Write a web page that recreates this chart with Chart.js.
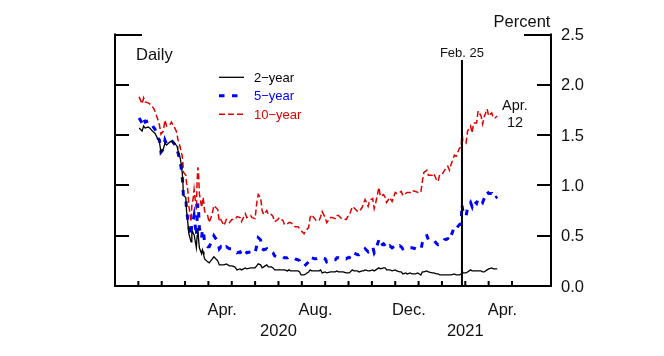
<!DOCTYPE html>
<html><head><meta charset="utf-8">
<script src="https://cdn.jsdelivr.net/npm/chart.js@4.4.1/dist/chart.umd.min.js"></script>
<style>html,body{margin:0;padding:0;background:#fff}canvas{display:block}</style>
</head><body>
<canvas id="c" width="664" height="356"></canvas>
<script>
// ---- data (percent, daily-ish observations) ----
const dates = [
"2020-01-02","2020-01-06","2020-01-08","2020-01-10","2020-01-14","2020-01-16","2020-01-21","2020-01-23","2020-01-27","2020-01-29","2020-01-31",
"2020-02-03","2020-02-05","2020-02-07","2020-02-11","2020-02-13","2020-02-18","2020-02-20","2020-02-21","2020-02-24","2020-02-25","2020-02-26","2020-02-27","2020-02-28",
"2020-03-02","2020-03-03","2020-03-04","2020-03-05","2020-03-06","2020-03-09","2020-03-10","2020-03-11","2020-03-12","2020-03-13","2020-03-16","2020-03-17","2020-03-18","2020-03-19","2020-03-20","2020-03-23","2020-03-24","2020-03-25","2020-03-26","2020-03-27","2020-03-31",
"2020-04-02","2020-04-06","2020-04-08","2020-04-13","2020-04-15","2020-04-17","2020-04-21","2020-04-24","2020-04-28",
"2020-05-01","2020-05-05","2020-05-08","2020-05-12","2020-05-14","2020-05-19","2020-05-21","2020-05-26","2020-05-28",
"2020-06-01","2020-06-03","2020-06-05","2020-06-08","2020-06-10","2020-06-12","2020-06-16","2020-06-18","2020-06-22","2020-06-24","2020-06-26","2020-06-30",
"2020-07-02","2020-07-07","2020-07-09","2020-07-13","2020-07-15","2020-07-17","2020-07-21","2020-07-23","2020-07-27","2020-07-29","2020-07-31",
"2020-08-04","2020-08-06","2020-08-10","2020-08-12","2020-08-14","2020-08-18","2020-08-20","2020-08-24","2020-08-26","2020-08-28",
"2020-09-01","2020-09-03","2020-09-08","2020-09-10","2020-09-14","2020-09-16","2020-09-18","2020-09-22","2020-09-24","2020-09-28","2020-09-30",
"2020-10-02","2020-10-06","2020-10-08","2020-10-13","2020-10-15","2020-10-19","2020-10-21","2020-10-23","2020-10-27","2020-10-29",
"2020-11-02","2020-11-04","2020-11-06","2020-11-10","2020-11-12","2020-11-16","2020-11-18","2020-11-20","2020-11-24","2020-11-27",
"2020-12-01","2020-12-03","2020-12-07","2020-12-09","2020-12-11","2020-12-15","2020-12-17","2020-12-21","2020-12-23","2020-12-28","2020-12-31",
"2021-01-04","2021-01-06","2021-01-08","2021-01-12","2021-01-14","2021-01-19","2021-01-21","2021-01-25","2021-01-27","2021-01-29",
"2021-02-02","2021-02-04","2021-02-08","2021-02-10","2021-02-12","2021-02-16","2021-02-18","2021-02-22","2021-02-24","2021-02-25","2021-02-26",
"2021-03-02","2021-03-04","2021-03-08","2021-03-10","2021-03-12","2021-03-16","2021-03-18","2021-03-22","2021-03-24","2021-03-26","2021-03-30",
"2021-04-01","2021-04-05","2021-04-07","2021-04-09","2021-04-12"
];
const twoYear = [
1.57,1.54,1.59,1.57,1.58,1.57,1.53,1.52,1.46,1.43,1.33,
1.36,1.42,1.40,1.43,1.44,1.41,1.39,1.35,1.27,1.22,1.16,1.08,0.90,
0.88,0.74,0.69,0.60,0.52,0.44,0.54,0.54,0.52,0.51,0.38,0.50,0.58,0.46,0.38,0.32,0.36,0.34,0.30,0.27,0.24,
0.23,0.27,0.29,0.25,0.21,0.21,0.21,0.22,0.20,
0.20,0.19,0.16,0.17,0.16,0.18,0.17,0.18,0.18,
0.18,0.20,0.22,0.21,0.18,0.19,0.21,0.19,0.19,0.18,0.16,0.16,
0.16,0.16,0.16,0.15,0.16,0.15,0.15,0.15,0.15,0.14,0.11,
0.11,0.12,0.14,0.16,0.15,0.15,0.15,0.15,0.16,0.13,
0.14,0.13,0.14,0.14,0.14,0.15,0.14,0.14,0.14,0.13,0.13,
0.13,0.16,0.15,0.15,0.14,0.15,0.15,0.16,0.15,0.15,
0.16,0.15,0.16,0.18,0.17,0.18,0.18,0.16,0.16,0.15,
0.16,0.15,0.14,0.14,0.12,0.13,0.12,0.13,0.12,0.12,0.13,
0.11,0.14,0.14,0.15,0.14,0.13,0.13,0.12,0.12,0.11,
0.11,0.11,0.11,0.11,0.11,0.12,0.11,0.11,0.12,0.17,0.13,
0.13,0.14,0.16,0.15,0.15,0.15,0.15,0.15,0.14,0.14,0.16,
0.17,0.18,0.17,0.17,0.17
];
const fiveYear = [
1.67,1.62,1.67,1.63,1.64,1.64,1.58,1.56,1.47,1.45,1.33,
1.36,1.45,1.41,1.44,1.45,1.40,1.38,1.33,1.24,1.18,1.12,1.03,0.89,
0.88,0.75,0.70,0.64,0.58,0.50,0.64,0.66,0.66,0.70,0.50,0.68,0.82,0.74,0.58,0.48,0.56,0.54,0.50,0.42,0.39,
0.39,0.46,0.50,0.44,0.37,0.39,0.36,0.39,0.37,
0.37,0.36,0.33,0.34,0.31,0.35,0.33,0.34,0.32,
0.33,0.40,0.48,0.46,0.37,0.36,0.37,0.34,0.34,0.33,0.30,0.29,
0.30,0.29,0.28,0.28,0.29,0.28,0.28,0.27,0.26,0.25,0.21,
0.20,0.21,0.24,0.29,0.28,0.27,0.27,0.28,0.29,0.28,
0.27,0.24,0.26,0.26,0.26,0.28,0.28,0.27,0.28,0.27,0.28,
0.28,0.34,0.33,0.31,0.31,0.33,0.35,0.37,0.34,0.36,
0.39,0.33,0.36,0.46,0.40,0.42,0.40,0.37,0.40,0.38,
0.40,0.38,0.40,0.39,0.37,0.39,0.38,0.38,0.38,0.37,0.36,
0.36,0.43,0.49,0.50,0.46,0.45,0.46,0.42,0.41,0.42,
0.43,0.46,0.47,0.45,0.50,0.59,0.57,0.61,0.62,0.81,0.75,
0.69,0.78,0.83,0.79,0.85,0.82,0.87,0.85,0.83,0.87,0.94,
0.92,0.92,0.87,0.87,0.89
];
const tenYear = [
1.88,1.81,1.87,1.83,1.82,1.81,1.77,1.74,1.65,1.60,1.51,
1.54,1.65,1.59,1.60,1.63,1.56,1.52,1.46,1.38,1.33,1.31,1.26,1.13,
1.10,1.02,1.00,0.92,0.80,0.64,0.80,0.84,0.88,0.96,0.76,1.04,1.18,1.10,0.92,0.78,0.84,0.88,0.82,0.74,0.70,
0.63,0.72,0.80,0.76,0.64,0.66,0.60,0.66,0.63,
0.66,0.66,0.69,0.68,0.64,0.72,0.68,0.70,0.68,
0.67,0.82,0.91,0.88,0.75,0.71,0.75,0.71,0.71,0.69,0.64,0.66,
0.68,0.65,0.61,0.62,0.63,0.63,0.61,0.59,0.59,0.57,0.55,
0.52,0.55,0.58,0.68,0.71,0.67,0.65,0.65,0.69,0.74,
0.68,0.63,0.68,0.68,0.67,0.70,0.70,0.67,0.67,0.66,0.69,
0.70,0.79,0.78,0.74,0.74,0.78,0.82,0.86,0.79,0.85,
0.87,0.77,0.83,0.98,0.89,0.91,0.88,0.83,0.88,0.84,
0.93,0.92,0.93,0.94,0.90,0.92,0.93,0.93,0.95,0.94,0.93,
0.93,1.04,1.13,1.15,1.10,1.10,1.12,1.05,1.04,1.11,
1.12,1.15,1.19,1.15,1.21,1.30,1.29,1.37,1.38,1.54,1.44,
1.42,1.54,1.59,1.52,1.62,1.62,1.74,1.69,1.61,1.68,1.76,
1.69,1.72,1.67,1.67,1.69
];
const yTicks = ["0.0","0.5","1.0","1.5","2.0","2.5"];
const monthLabels = ["Apr.","Aug.","Dec.","Apr."];
const yearLabels = ["2020","2021"];
const seriesNames = ["2\u2212year","5\u2212year","10\u2212year"];
const eventLabel = "Feb. 25";
const eventDate = "2021-02-25";
const endLabel = ["Apr.","12"];

// ---- helpers ----
function toM(s){const p=s.split('-').map(Number);const dim=new Date(p[0],p[1],0).getDate();return (p[0]-2019)*12+(p[1]-1)-11+(p[2]-1)/dim;}
const xs = dates.map(toM);
const pts = arr => arr.map((v,i)=>({x:xs[i],y:v}));
const FONT = '"Liberation Sans", Arial, sans-serif';

const deco = {
  id:'deco',
  afterDatasetsDraw(chart){
    const ctx=chart.ctx, ca=chart.chartArea, xS=chart.scales.x, yS=chart.scales.y;
    const L=ca.left, R=ca.right, T=ca.top, B=ca.bottom;
    ctx.save();
    // event line
    const ex=xS.getPixelForValue(toM(eventDate));
    ctx.strokeStyle='#000'; ctx.lineWidth=2;
    ctx.beginPath(); ctx.moveTo(ex,60); ctx.lineTo(ex,B); ctx.stroke();
    // axes
    ctx.lineWidth=2; ctx.lineCap='square';
    ctx.beginPath();
    ctx.moveTo(L,T); ctx.lineTo(L,B); ctx.lineTo(R,B); ctx.lineTo(R,T);
    ctx.stroke();
    ctx.lineCap='butt';
    // y ticks (inside, both sides)
    yTicks.forEach((t,i)=>{
      const v=parseFloat(t); if(v===0) return;
      const y=Math.round(yS.getPixelForValue(v));
      const len = (i===yTicks.length-1)?27:14;
      ctx.beginPath(); ctx.moveTo(L-1,y); ctx.lineTo(L+len,y); ctx.moveTo(R+1,y); ctx.lineTo(R-len,y); ctx.stroke();
    });
    // x ticks: month boundaries
    for(let m=1;m<=17;m++){
      const x=xS.getPixelForValue(m);
      ctx.beginPath(); ctx.moveTo(x,B); ctx.lineTo(x,B-5); ctx.stroke();
    }
    // y tick labels
    ctx.fillStyle='#111'; ctx.font='16.5px '+FONT; ctx.textAlign='left'; ctx.textBaseline='middle';
    yTicks.forEach(t=>{ ctx.fillText(t, R+10, yS.getPixelForValue(parseFloat(t))+1); });
    // Percent
    ctx.textAlign='center'; ctx.textBaseline='alphabetic';
    ctx.fillText('Percent', 522, 26.5);
    // x labels
    const mPos=[4.5,8.5,12.5,16.5];
    monthLabels.forEach((t,i)=>ctx.fillText(t, xS.getPixelForValue(mPos[i])+2, 315));
    const yPos=[7,15];
    yearLabels.forEach((t,i)=>ctx.fillText(t, xS.getPixelForValue(yPos[i]), 335.5));
    // Daily
    ctx.textAlign='left';
    ctx.fillText('Daily', 136, 60);
    // event label
    ctx.textAlign='center'; ctx.font='13px '+FONT;
    ctx.fillText(eventLabel, ex, 57.3);
    // end label
    ctx.font='14.5px '+FONT;
    ctx.fillText(endLabel[0], 515, 109.5);
    ctx.fillText(endLabel[1], 515, 127.3);
    // legend
    const ds=chart.data.datasets;
    const rows=[77.3,95.7,114.3];
    ctx.font='13px '+FONT; ctx.textAlign='left';
    ds.forEach((d,i)=>{
      ctx.strokeStyle=d.borderColor; ctx.lineWidth=d.borderWidth; ctx.setLineDash(d.borderDash||[]);
      ctx.beginPath(); ctx.moveTo(219,rows[i]); ctx.lineTo(244,rows[i]); ctx.stroke();
      ctx.setLineDash([]);
      ctx.fillStyle=d.borderColor;
      ctx.fillText(seriesNames[i], 254, rows[i]+4.5);
    });
    ctx.restore();
  }
};

new Chart(document.getElementById('c'),{
  type:'line',
  data:{datasets:[
    {label:seriesNames[0],data:pts(twoYear),borderColor:'#000000',borderWidth:1.3,pointRadius:0,borderDash:[]},
    {label:seriesNames[1],data:pts(fiveYear),borderColor:'#0000ff',borderWidth:3,pointRadius:0,borderDash:[5.5,7.5]},
    {label:seriesNames[2],data:pts(tenYear),borderColor:'#e00000',borderWidth:1.5,pointRadius:0,borderDash:[6,3]}
  ]},
  options:{
    responsive:false, animation:false, devicePixelRatio:1,
    layout:{padding:{left:115,right:113,top:34.5,bottom:70}},
    plugins:{legend:{display:false},tooltip:{enabled:false}},
    elements:{line:{tension:0}},
    scales:{
      x:{type:'linear',min:0,max:18.67,display:false},
      y:{type:'linear',min:0,max:2.5,display:false}
    }
  },
  plugins:[deco]
});
</script>
</body></html>
